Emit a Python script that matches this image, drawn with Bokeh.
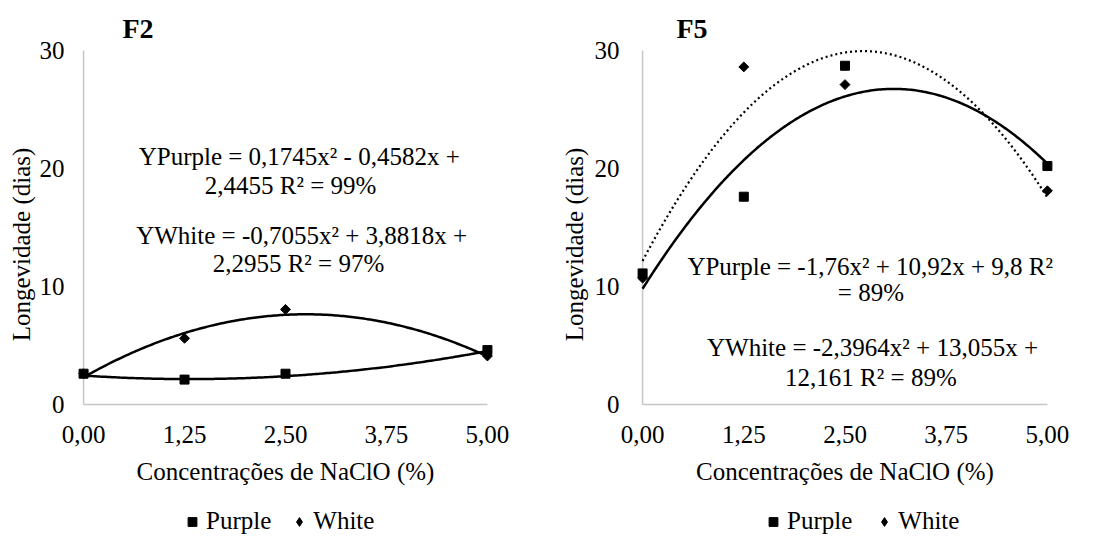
import numpy as np
from bokeh.plotting import figure
from bokeh.layouts import row, column
from bokeh.models import Range1d, FixedTicker, Label, Legend, LegendItem
from bokeh.embed import file_html
from bokeh.resources import INLINE

# ---------------- data ----------------
conc = [0.0, 1.25, 2.5, 5.0]
x_ticks = [0.0, 1.25, 2.5, 3.75, 5.0]
x_tick_labels = ["0,00", "1,25", "2,50", "3,75", "5,00"]
y_ticks = [0, 10, 20, 30]

f2_purple = [2.6, 2.1, 2.6, 4.6]
f2_white = [2.6, 5.6, 8.05, 4.1]
f5_purple = [11.1, 17.6, 28.7, 20.2]
f5_white = [10.7, 28.6, 27.1, 18.1]

# printed trend-line coefficients: y = a x^2 + b x + c
f2_purple_coef = [0.1745, -0.4582, 2.4455]
f2_white_coef = [-0.7055, 3.8818, 2.2955]
f5_purple_coef = [-1.76, 10.92, 9.8]
f5_white_coef = [-2.3964, 13.055, 12.161]

f2_eq = ["YPurple = 0,1745x² - 0,4582x +", "2,4455   R² = 99%",
         "YWhite = -0,7055x² + 3,8818x +", "2,2955 R² = 97%"]
f5_eq = ["YPurple = -1,76x² + 10,92x + 9,8  R²", "= 89%",
         "YWhite = -2,3964x² + 13,055x +", "12,161 R² = 89%"]

series_names = ["Purple", "White"]
x_title = "Concentrações de NaClO (%)"
y_title = "Longevidade (dias)"

FONT = "Liberation Serif"
FS = "25px"
MAIN_H = 505
LEG_H = 31
Y_LO = -3.4


def make_panel(title, purple, white, pcoef, wcoef, eqs, eq_pos, white_dash,
               min_left, min_right, ylab_standoff, ytitle_standoff, title_offset):
    p = figure(width=550, height=MAIN_H, x_range=Range1d(-0.1, 5.1),
               y_range=Range1d(Y_LO, 30.5), output_backend="svg",
               toolbar_location=None, min_border_left=min_left,
               min_border_right=min_right, min_border_top=44,
               min_border_bottom=MAIN_H - 444)
    p.outline_line_color = None
    p.grid.visible = False
    p.background_fill_color = "white"
    p.border_fill_color = "white"

    # title
    p.title.text = title
    p.title.text_font = FONT
    p.title.text_font_size = "28px"
    p.title.text_font_style = "bold"
    p.title.text_color = "black"
    p.title.align = "left"
    p.title.offset = title_offset
    p.title.standoff = 1

    for ax in (p.xaxis[0], p.yaxis[0]):
        ax.axis_line_alpha = 0
        ax.major_tick_line_alpha = 0
        ax.minor_tick_line_alpha = 0
        ax.major_tick_out = 0
        ax.major_tick_in = 0
        ax.minor_tick_out = 0
        ax.minor_tick_in = 0
        ax.major_label_text_font = FONT
        ax.major_label_text_font_size = FS
        ax.major_label_text_color = "black"
        ax.axis_label_text_font = FONT
        ax.axis_label_text_font_size = FS
        ax.axis_label_text_font_style = "normal"
        ax.axis_label_text_color = "black"
    p.xaxis[0].ticker = FixedTicker(ticks=x_ticks)
    p.xaxis[0].major_label_overrides = {t: l for t, l in zip(x_ticks, x_tick_labels)}
    p.xaxis[0].major_label_standoff = -19
    p.xaxis[0].axis_label = x_title
    p.xaxis[0].axis_label_standoff = 12
    p.yaxis[0].ticker = FixedTicker(ticks=y_ticks)
    p.yaxis[0].major_label_standoff = ylab_standoff
    p.yaxis[0].axis_label = y_title
    p.yaxis[0].axis_label_standoff = ytitle_standoff

    # axis lines (light gray)
    p.segment(x0=[min(x_ticks)], y0=[min(y_ticks)], x1=[min(x_ticks)], y1=[max(y_ticks)],
              line_color="#c6c6c6", line_width=1.5)
    p.segment(x0=[min(x_ticks)], y0=[min(y_ticks)], x1=[max(x_ticks)], y1=[min(y_ticks)],
              line_color="#c6c6c6", line_width=1.5)

    # trend lines
    xs = np.linspace(min(conc), max(conc), 200)
    p.line(xs, np.polyval(pcoef, xs), line_color="black", line_width=2.5)
    if white_dash:
        p.line(xs, np.polyval(wcoef, xs), line_color="black", line_width=2.2,
               line_dash="2 3")
    else:
        p.line(xs, np.polyval(wcoef, xs), line_color="black", line_width=2.5)

    p.scatter(conc, purple, marker="square", size=9, color="black")
    p.scatter(conc, white, marker="square", angle=np.pi / 4, size=7, color="black")

    # equations
    for t, (ex, ey) in zip(eqs, eq_pos):
        p.add_layout(Label(x=ex, y=ey, text=t, text_font=FONT, text_font_size=FS,
                           text_align="center", text_baseline="middle",
                           text_color="black"))
    return p


def make_legend(purple, white, loc_x, spacing):
    # a strip holding only the legend; its key renderers use the series' data,
    # which lies outside this strip's ranges (so only the legend keys show)
    lf = figure(width=550, height=LEG_H, x_range=Range1d(-1, -0.5),
                y_range=Range1d(-1, -0.5), output_backend="svg",
                toolbar_location=None, min_border=0)
    lf.axis.visible = False
    lf.grid.visible = False
    lf.outline_line_color = None
    r_p = lf.scatter(x=conc, y=purple, marker="square", size=9, color="black")
    r_w = lf.scatter(x=conc, y=white, marker="diamond", size=12, color="black")
    legend = Legend(items=[LegendItem(label=series_names[0], renderers=[r_p]),
                           LegendItem(label=series_names[1], renderers=[r_w])],
                    orientation="horizontal", location=(loc_x, 1),
                    label_text_font=FONT, label_text_font_size=FS,
                    label_text_color="black", glyph_width=22, glyph_height=25,
                    label_height=25, label_standoff=3, spacing=spacing, padding=0,
                    margin=0, border_line_alpha=0, background_fill_alpha=0)
    lf.add_layout(legend)
    return lf


p1 = make_panel("F2", f2_purple, f2_white, f2_purple_coef, f2_white_coef, f2_eq,
                [(2.67, 21.0), (2.64, 18.56), (2.70, 14.32), (2.66, 11.95)],
                False, 75, 55, 11, 2, 47)
p2 = make_panel("F5", f5_purple, f5_white, f5_purple_coef, f5_white_coef, f5_eq,
                [(2.85, 11.69), (2.82, 9.49), (2.84, 4.83), (2.82, 2.29)],
                True, 84, 45, 15, 4, 42)
l1 = make_legend(f2_purple, f2_white, 181, 17)
l2 = make_legend(f5_purple, f5_white, 212, 21)

layout = column(row(p1, p2), row(l1, l2))
open("out.html", "w").write(file_html(layout, INLINE))
